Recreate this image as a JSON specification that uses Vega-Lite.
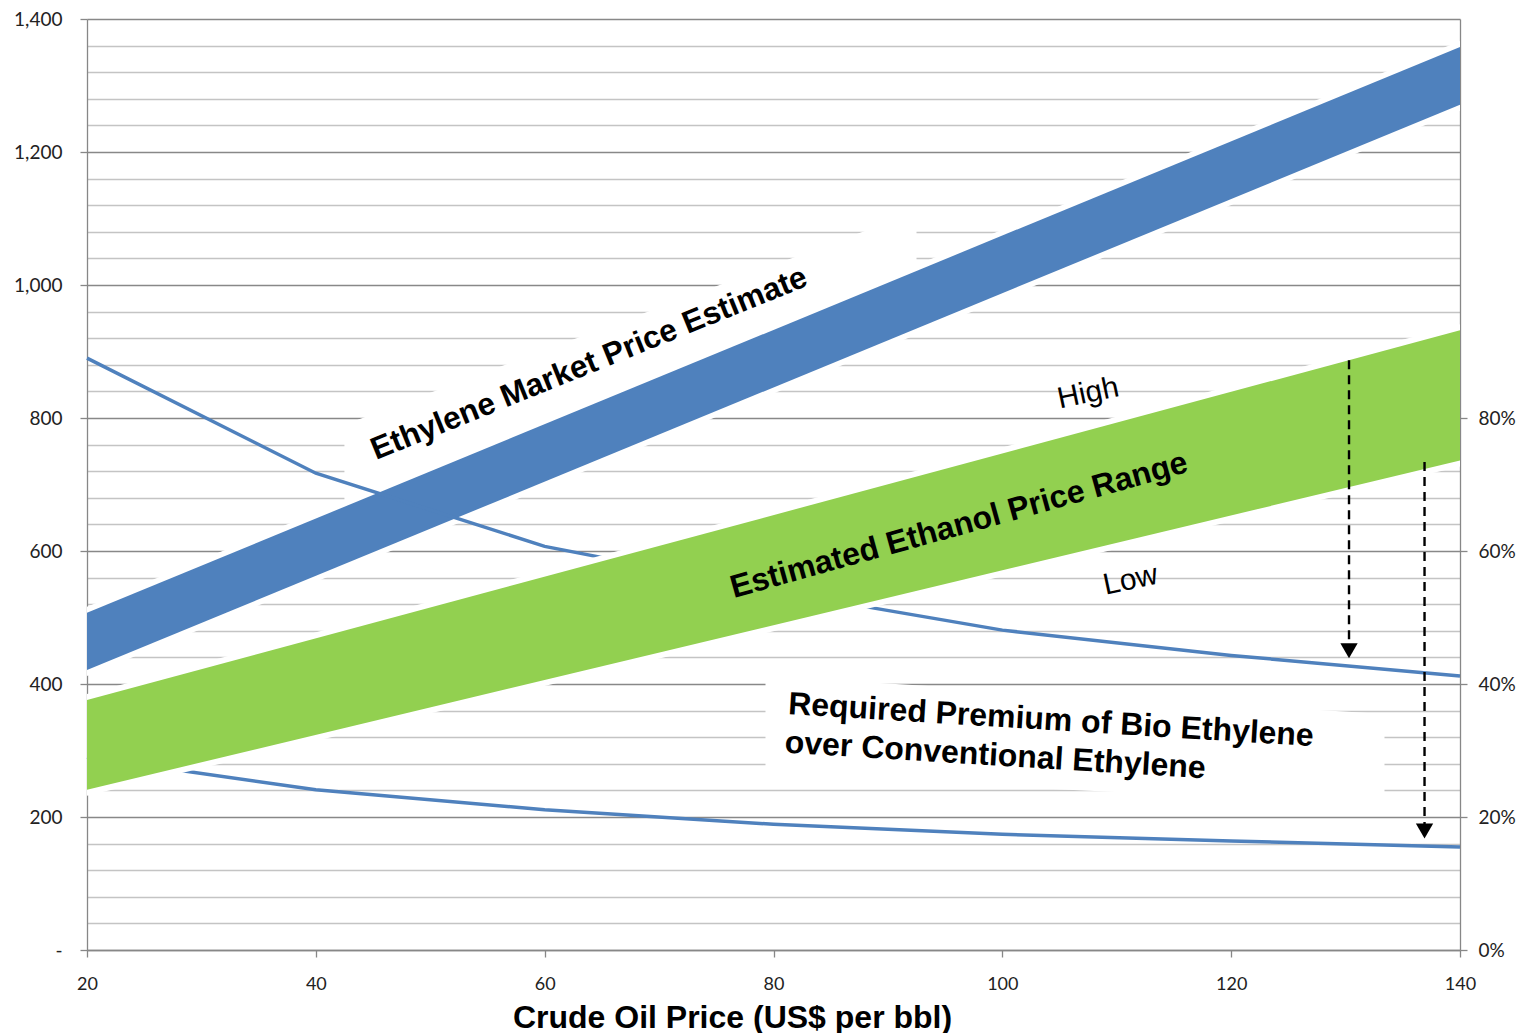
{
  "$schema": "https://vega.github.io/schema/vega-lite/v6.json",
  "width": 1373,
  "height": 931,
  "autosize": "none",
  "padding": {"left": 87, "top": 19, "right": 58, "bottom": 83},
  "background": "white",
  "config": {
    "view": {"stroke": null},
    "axis": {"labelFont": "Lato", "labelFontSize": 19, "labelColor": "#222222", "domainColor": "#878787", "tickColor": "#878787", "domainWidth": 1.3, "tickWidth": 1.3}
  },
  "datasets": {
    "ethylene": [
      {"oil": 20, "low": 421, "high": 507},
      {"oil": 140, "low": 1271, "high": 1358}
    ],
    "ethylene_halo": [
      {"oil": 20, "low": 412, "high": 516},
      {"oil": 140, "low": 1262, "high": 1367}
    ],
    "label_box": [
      {"oil": 42.5, "bottom": 660, "top": 790},
      {"oil": 92.5, "bottom": 1015, "top": 1110}
    ],
    "ethanol": [
      {"oil": 20, "low": 241, "high": 376},
      {"oil": 140, "low": 736, "high": 932}
    ],
    "ethanol_halo": [
      {"oil": 20, "low": 232, "high": 385},
      {"oil": 140, "low": 727, "high": 941}
    ],
    "premium_box": [
      {"oil": 79.3, "bottom": 263, "top": 412},
      {"oil": 133.4, "bottom": 218, "top": 355}
    ],
    "premium": [
      {"oil": 20, "case": "High", "premium": 0.89},
      {"oil": 40, "case": "High", "premium": 0.717},
      {"oil": 60, "case": "High", "premium": 0.607},
      {"oil": 80, "case": "High", "premium": 0.54},
      {"oil": 100, "case": "High", "premium": 0.481},
      {"oil": 120, "case": "High", "premium": 0.443},
      {"oil": 140, "case": "High", "premium": 0.412},
      {"oil": 20, "case": "Low", "premium": 0.29},
      {"oil": 40, "case": "Low", "premium": 0.241},
      {"oil": 60, "case": "Low", "premium": 0.211},
      {"oil": 80, "case": "Low", "premium": 0.189},
      {"oil": 100, "case": "Low", "premium": 0.174},
      {"oil": 120, "case": "Low", "premium": 0.164},
      {"oil": 140, "case": "Low", "premium": 0.155}
    ],
    "arrows": [
      {"oil": 130.3, "from": 887, "to": 458, "head": 450},
      {"oil": 136.9, "from": 734, "to": 188, "head": 179}
    ]
  },
  "resolve": {"scale": {"y": "independent"}},
  "layer": [
    {
      "layer": [
        {
          "data": {"name": "label_box"},
          "mark": {"type": "area", "color": "white"},
          "encoding": {
            "x": {
              "field": "oil", "type": "quantitative",
              "scale": {"domain": [20, 140], "nice": false, "zero": false},
              "axis": {
                "values": [20, 40, 60, 80, 100, 120, 140],
                "grid": false, "tickSize": 7, "labelPadding": 18, "labelFlush": false, "labelFontSize": 18,
                "title": "Crude Oil Price (US$ per bbl)",
                "titleFont": "Liberation Sans", "titleFontSize": 32, "titleFontWeight": "bold", "titleColor": "black",
                "titleX": 645, "titleY": 77, "titleAlign": "center", "titleBaseline": "alphabetic"
              }
            },
            "y": {
              "field": "top", "type": "quantitative",
              "scale": {"domain": [0, 1400], "nice": false, "zero": false},
              "axis": {
                "orient": "left",
                "values": [0, 40, 80, 120, 160, 200, 240, 280, 320, 360, 400, 440, 480, 520, 560, 600, 640, 680, 720, 760, 800, 840, 880, 920, 960, 1000, 1040, 1080, 1120, 1160, 1200, 1240, 1280, 1320, 1360, 1400],
                "tickCount": 60,
                "title": null,
                "grid": true,
                "gridColor": {"condition": {"test": "datum.value % 200 === 0", "value": "#888888"}, "value": "#c4c4c4"},
                "gridWidth": 1.4,
                "tickOpacity": {"condition": {"test": "datum.value % 200 === 0", "value": 1}, "value": 0},
                "tickSize": 7, "labelPadding": 18, "labelOverlap": false, "labelFlush": false,
                "labelExpr": "datum.value % 200 !== 0 ? '' : (datum.value === 0 ? '-' : format(datum.value, ','))"
              }
            },
            "y2": {"field": "bottom"}
          }
        },
        {
          "data": {"name": "ethylene_halo"},
          "mark": {"type": "area", "color": "white"},
          "encoding": {
            "x": {"field": "oil", "type": "quantitative"},
            "y": {"field": "high", "type": "quantitative"},
            "y2": {"field": "low"}
          }
        },
        {
          "data": {"name": "ethylene"},
          "mark": {"type": "area", "color": "#4F81BD", "opacity": 1},
          "encoding": {
            "x": {"field": "oil", "type": "quantitative"},
            "y": {"field": "high", "type": "quantitative"},
            "y2": {"field": "low"}
          }
        },
        {
          "data": {"values": [{"oil": 63.9, "value": 881, "label": "Ethylene Market Price Estimate"}]},
          "mark": {"type": "text", "font": "Liberation Sans", "fontSize": 31.5, "fontWeight": "bold", "color": "black", "angle": -22, "align": "center", "baseline": "middle"},
          "encoding": {
            "x": {"field": "oil", "type": "quantitative"},
            "y": {"field": "value", "type": "quantitative"},
            "text": {"field": "label"}
          }
        }
      ]
    },
    {
      "data": {"name": "premium"},
      "mark": {"type": "line", "color": "#4F81BD", "strokeWidth": 3.5},
      "encoding": {
        "x": {"field": "oil", "type": "quantitative"},
        "y": {
          "field": "premium", "type": "quantitative",
          "scale": {"domain": [0, 1.4], "nice": false, "zero": false},
          "axis": {"orient": "right", "values": [0, 0.2, 0.4, 0.6, 0.8], "format": ".0%", "grid": false, "title": null, "tickSize": 7, "labelPadding": 11, "labelFlush": false}
        },
        "detail": {"field": "case"}
      }
    },
    {
      "layer": [
        {
          "data": {"name": "ethanol_halo"},
          "mark": {"type": "area", "color": "white"},
          "encoding": {
            "x": {"field": "oil", "type": "quantitative"},
            "y": {"field": "high", "type": "quantitative", "scale": {"domain": [0, 1400], "nice": false, "zero": false}, "axis": null},
            "y2": {"field": "low"}
          }
        },
        {
          "data": {"name": "ethanol"},
          "mark": {"type": "area", "color": "#92D050", "opacity": 1},
          "encoding": {
            "x": {"field": "oil", "type": "quantitative"},
            "y": {"field": "high", "type": "quantitative", "axis": null},
            "y2": {"field": "low"}
          }
        },
        {
          "data": {"name": "premium_box"},
          "mark": {"type": "area", "color": "white"},
          "encoding": {
            "x": {"field": "oil", "type": "quantitative"},
            "y": {"field": "top", "type": "quantitative", "axis": null},
            "y2": {"field": "bottom"}
          }
        },
        {
          "data": {"values": [{"oil": 96.2, "value": 639, "label": "Estimated Ethanol Price Range"}]},
          "mark": {"type": "text", "font": "Liberation Sans", "fontSize": 32, "fontWeight": "bold", "color": "black", "angle": -15.5, "align": "center", "baseline": "middle"},
          "encoding": {
            "x": {"field": "oil", "type": "quantitative"},
            "y": {"field": "value", "type": "quantitative", "axis": null},
            "text": {"field": "label"}
          }
        },
        {
          "data": {"values": [{"oil": 107.5, "value": 837, "label": "High"}, {"oil": 111.2, "value": 556, "label": "Low"}]},
          "mark": {"type": "text", "font": "Liberation Sans", "fontSize": 30, "color": "black", "angle": -12, "align": "center", "baseline": "middle"},
          "encoding": {
            "x": {"field": "oil", "type": "quantitative"},
            "y": {"field": "value", "type": "quantitative", "axis": null},
            "text": {"field": "label"}
          }
        },
        {
          "data": {"values": [{"oil": 81.3, "value": 370, "label": "Required Premium of Bio Ethylene"}, {"oil": 81.0, "value": 312, "label": "over Conventional Ethylene"}]},
          "mark": {"type": "text", "font": "Liberation Sans", "fontSize": 32, "fontWeight": "bold", "color": "black", "angle": 3.5, "align": "left", "baseline": "middle"},
          "encoding": {
            "x": {"field": "oil", "type": "quantitative"},
            "y": {"field": "value", "type": "quantitative", "axis": null},
            "text": {"field": "label"}
          }
        },
        {
          "data": {"name": "arrows"},
          "mark": {"type": "rule", "color": "black", "strokeWidth": 2.4, "strokeDash": [9, 6]},
          "encoding": {
            "x": {"field": "oil", "type": "quantitative"},
            "y": {"field": "from", "type": "quantitative", "axis": null},
            "y2": {"field": "to"}
          }
        },
        {
          "data": {"name": "arrows"},
          "mark": {"type": "point", "shape": "triangle-down", "filled": true, "color": "black", "size": 300, "opacity": 1},
          "encoding": {
            "x": {"field": "oil", "type": "quantitative"},
            "y": {"field": "head", "type": "quantitative", "axis": null}
          }
        }
      ]
    }
  ]
}
